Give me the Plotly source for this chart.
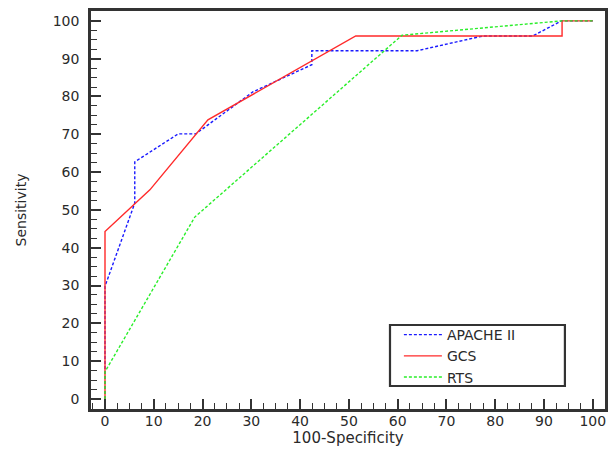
import plotly.graph_objects as go

apache_x = [0, 0, 6.1, 6.1, 15, 18.6, 30.3, 42.4, 42.4, 64, 77.5, 87.7, 93.6, 100]
apache_y = [0, 29.8, 51.8, 62.7, 70.1, 70.1, 81.2, 88.4, 92.1, 92.1, 96, 96, 100, 100]

gcs_x = [0, 0, 9.2, 21.1, 51.4, 93.7, 93.7, 100]
gcs_y = [0, 44.3, 55.3, 73.8, 96, 96, 100, 100]

rts_x = [0, 0, 18.4, 60.9, 93.7, 100]
rts_y = [0, 7.2, 48.1, 96.2, 100, 100]

x_ticks = list(range(0, 101, 10))
y_ticks = list(range(0, 101, 10))

font_family = "DejaVu Sans"
text_color = "#2a2a2a"
axis_color = "#333333"

fig = go.Figure()
fig.add_trace(go.Scatter(x=apache_x, y=apache_y, mode="lines", name="APACHE II",
                         line=dict(color="#1a1aff", width=1.4, dash="3px,2px")))
fig.add_trace(go.Scatter(x=gcs_x, y=gcs_y, mode="lines", name="GCS",
                         line=dict(color="#ff2a2a", width=1.4)))
fig.add_trace(go.Scatter(x=rts_x, y=rts_y, mode="lines", name="RTS",
                         line=dict(color="#2aee2a", width=1.4, dash="3px,2px")))

axis_common = dict(
    automargin=False,
    showline=True, linecolor=axis_color, linewidth=2.5, mirror=True,
    showgrid=False, zeroline=False,
    ticks="inside", ticklen=10, tickwidth=2, tickcolor=axis_color,
    tickfont=dict(family=font_family, size=14, color=text_color),
    minor=dict(dtick=2.5, ticks="inside", ticklen=6, tickwidth=1.3, tickcolor=axis_color, showgrid=False),
)

fig.update_xaxes(range=[-2.87, 102.5], tickvals=x_ticks, ticktext=[str(v) for v in x_ticks],
                 ticklabelstandoff=-3,
                 title=dict(text="100-Specificity", font=dict(family=font_family, size=15, color=text_color), standoff=5),
                 **axis_common)
fig.update_yaxes(range=[-2.65, 102.6], tickvals=y_ticks, ticktext=[str(v) for v in y_ticks],
                 ticklabelstandoff=6,
                 title=dict(text="Sensitivity", font=dict(family=font_family, size=14, color=text_color), standoff=23),
                 **axis_common)

# legend frame
fig.add_shape(type="rect", xref="paper", yref="paper",
              x0=0.5817, x1=0.922, y0=0.0578, y1=0.211,
              line=dict(color="#333333", width=2.2), fillcolor="white", layer="above")

fig.update_layout(
    width=608, height=454,
    margin=dict(l=91, r=3, t=11, b=45),
    paper_bgcolor="white", plot_bgcolor="white",
    showlegend=True,
    legend=dict(x=0.599, y=0.226, xanchor="left", yanchor="top",
                bgcolor="rgba(0,0,0,0)", borderwidth=0,
                font=dict(family=font_family, size=14, color=text_color),
                tracegroupgap=0, itemwidth=38),
)

fig.write_html("out.html", config={"displayModeBar": False},
               post_script="document.body.style.margin='0px';")
